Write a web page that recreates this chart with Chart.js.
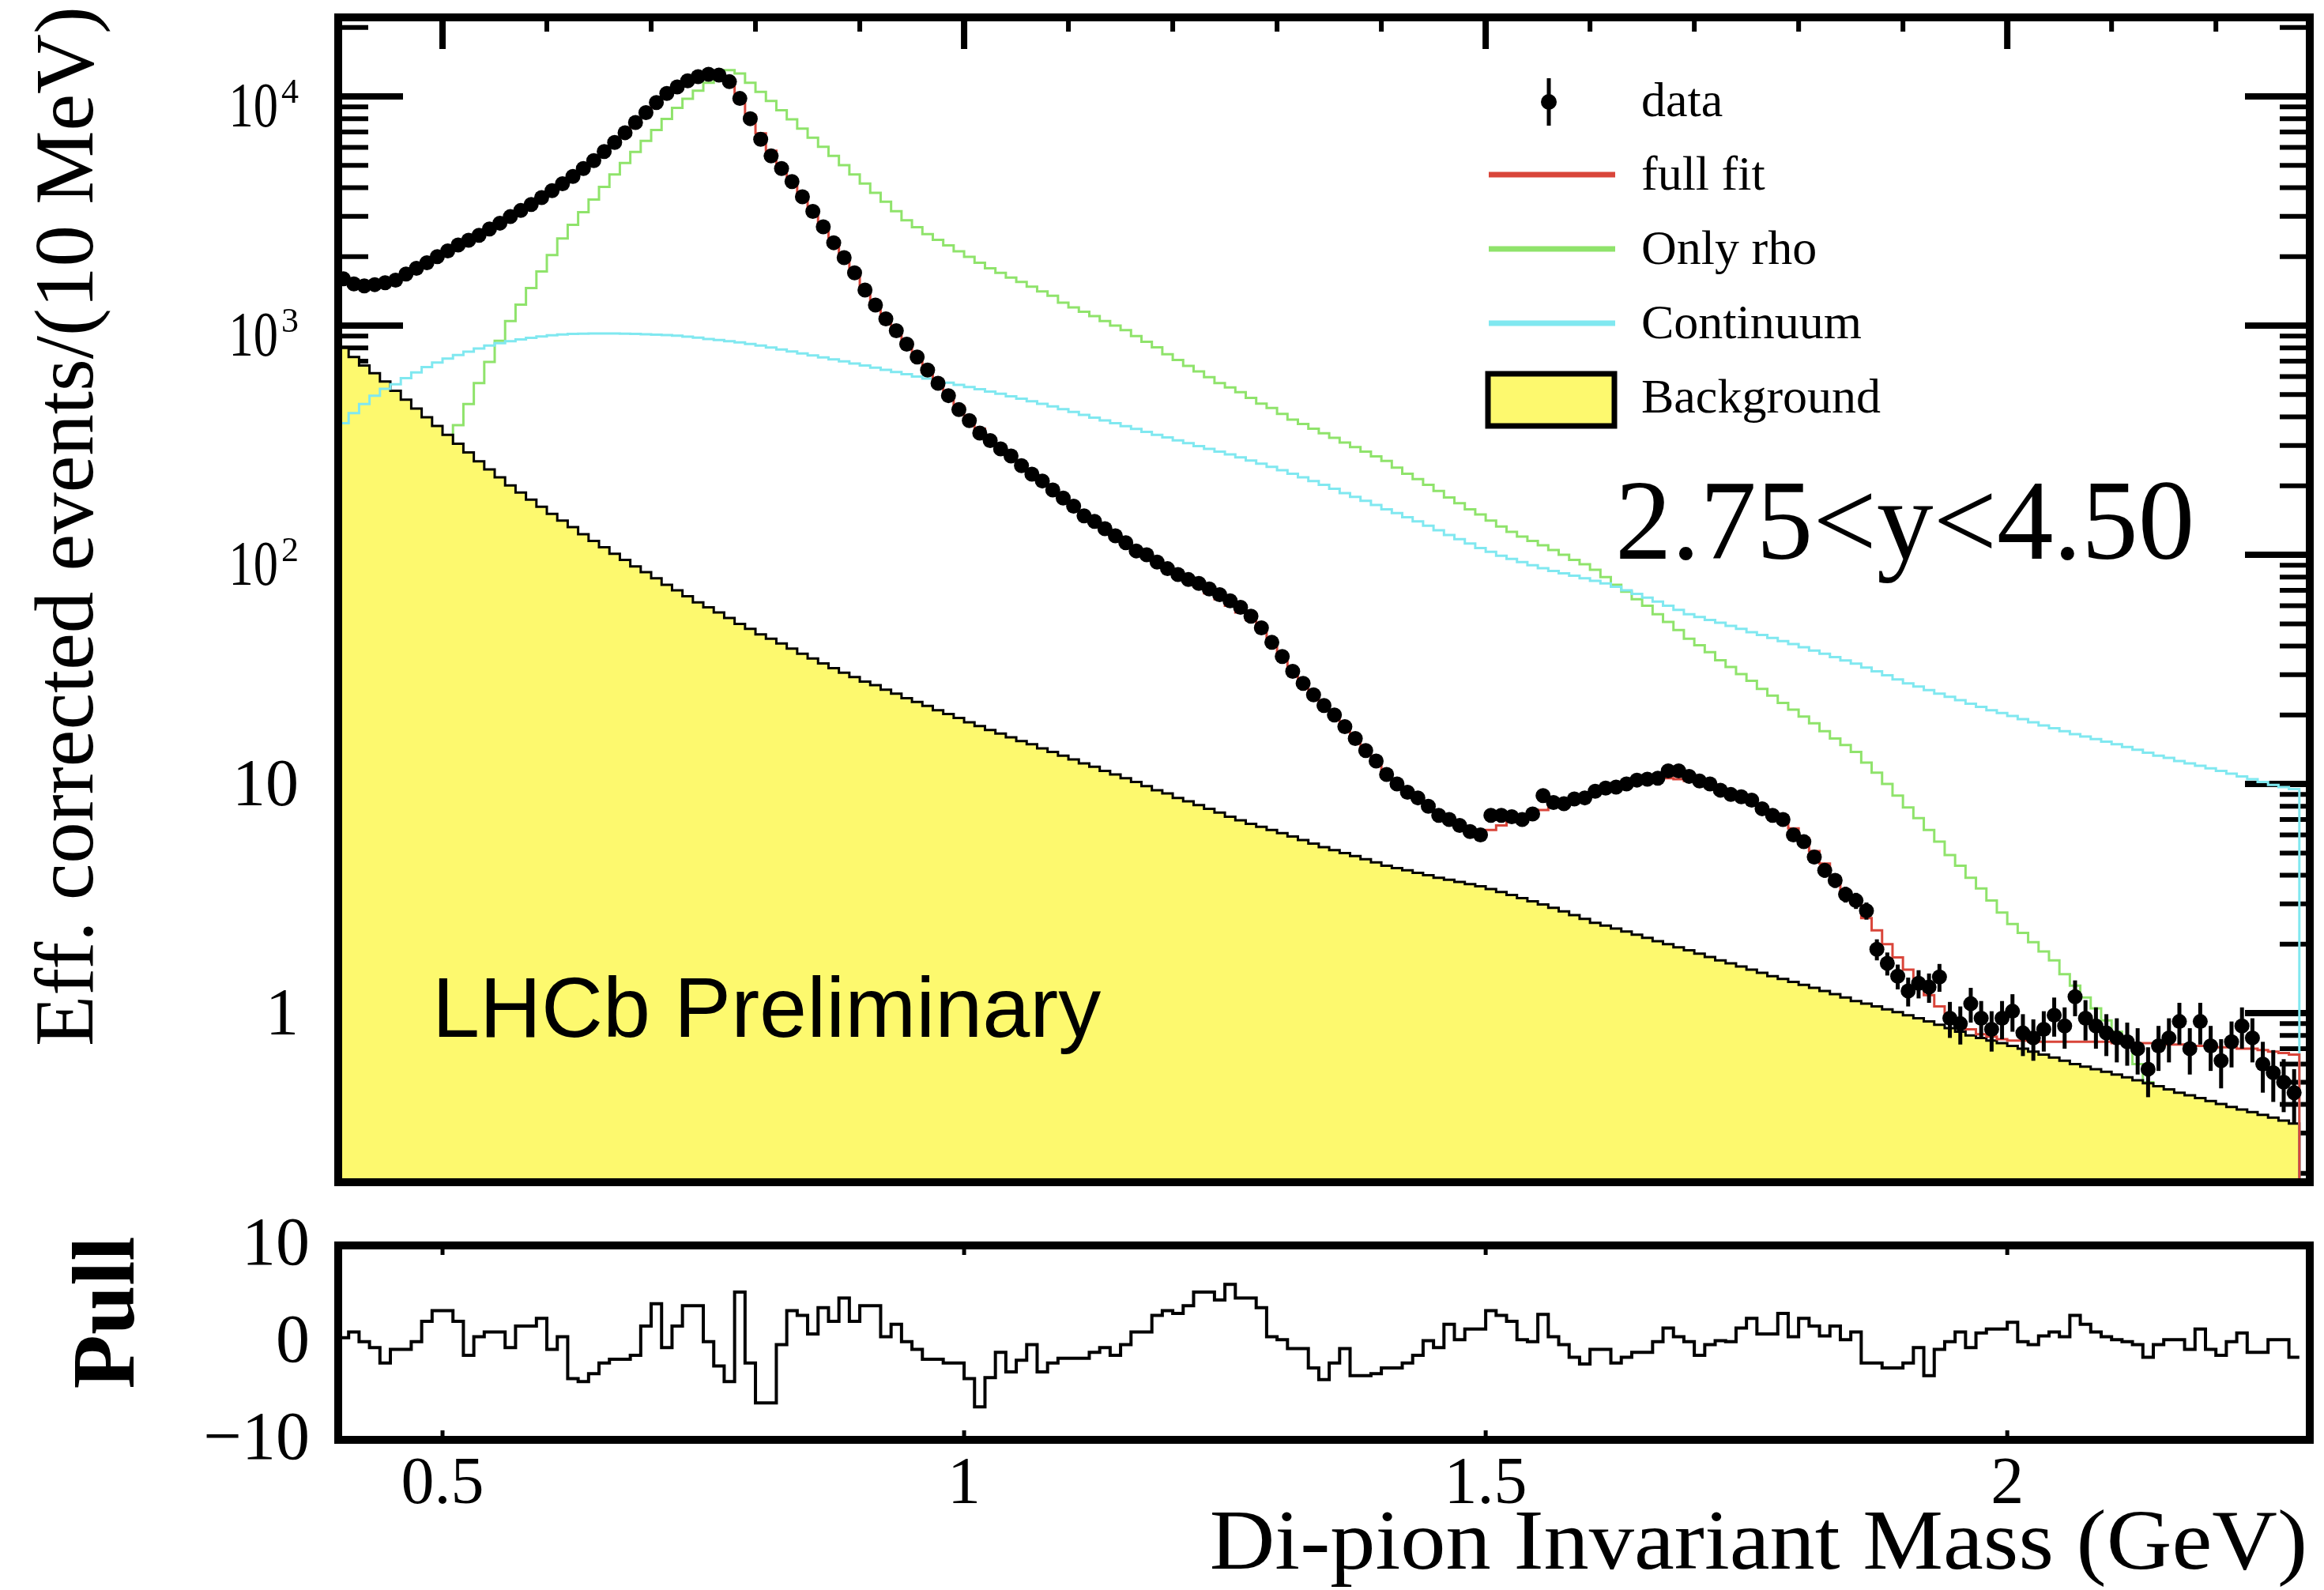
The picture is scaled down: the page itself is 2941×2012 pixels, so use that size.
<!DOCTYPE html>
<html>
<head>
<meta charset="utf-8">
<title>Di-pion invariant mass, 2.75&lt;y&lt;4.50</title>
<script src="https://cdn.jsdelivr.net/npm/chart.js@4.4.1/dist/chart.umd.min.js"></script>
<style>
  html, body { margin: 0; padding: 0; background: #fff; }
  #wrap { position: relative; width: 2941px; height: 2012px; }
  #wrap canvas { position: absolute; left: 0; top: 0; }
</style>
</head>
<body>
<div id="wrap">
  <canvas id="massChart" width="2941" height="2012"></canvas>
  <canvas id="pullChart" width="2941" height="2012"></canvas>
</div>
<script>
// binning: 10 MeV bins from 0.40 GeV
const binStart = 0.40;
const binWidth = 0.01;
const massMin = 0.40, massMax = 2.29;
const countMin = 0.183, countMax = 22130;
const pullMin = -10, pullMax = 10;

const countTicks = [1, 10, 100, 1000, 10000];
const countTickLabels = [['1'], ['10'], ['10', '2'], ['10', '3'], ['10', '4']];
const massTicks = [0.5, 1, 1.5, 2];
const massTickLabels = ['0.5', '1', '1.5', '2'];
const pullTicks = [-10, 0, 10];
const pullTickLabels = ['\u221210', '0', '10'];

// efficiency corrected yields per bin
const dataCounts = [
  1600, 1520, 1490, 1510, 1540, 1580, 1680, 1780, 1880, 2000,
  2120, 2250, 2360, 2480, 2640, 2800, 2990, 3180, 3380, 3620,
  3880, 4160, 4480, 4850, 5250, 5750, 6300, 6950, 7700, 8500,
  9400, 10300, 11000, 11700, 12200, 12500, 12400, 11600, 9800, 8000,
  6500, 5500, 4850, 4250, 3650, 3150, 2700, 2300, 1980, 1700,
  1430, 1230, 1070, 950, 830, 730, 640, 560, 495, 430,
  385, 340, 315, 290, 270, 245, 225, 210, 192, 177,
  163, 148, 140, 130, 121, 113, 104, 100, 93, 87,
  82, 78, 75, 71, 67, 63, 59, 54, 48, 41.5,
  36, 31, 27.5, 24.5, 22, 20, 17.8, 15.8, 14, 12.6,
  11, 10, 9.2, 8.7, 8.0, 7.3, 7.0, 6.6, 6.2, 6.0,
  7.3, 7.3, 7.2, 7.0, 7.4, 8.9, 8.3, 8.2, 8.6, 8.7,
  9.3, 9.6, 9.7, 10.0, 10.4, 10.5, 10.6, 11.4, 11.4, 10.8,
  10.3, 10.0, 9.4, 9.0, 8.8, 8.5, 7.8, 7.3, 7.0, 6.0,
  5.6, 4.8, 4.2, 3.8, 3.3, 3.1, 2.8, 1.9, 1.65, 1.45,
  1.25, 1.35, 1.3, 1.44, 0.95, 0.9, 1.1, 0.95, 0.85, 0.95,
  1.02, 0.82, 0.78, 0.85, 0.98, 0.88, 1.18, 0.95, 0.88, 0.82,
  0.78, 0.75, 0.7, 0.57, 0.72, 0.78, 0.92, 0.7, 0.92, 0.72,
  0.62, 0.75, 0.88, 0.78, 0.6, 0.55, 0.5, 0.45
];

// uncertainties, only large enough to show past the markers in the tail
const dataErrFirstBin = 140;
const dataErrTail = [
  0.35, 0.32, 0.3, 0.28, 0.26, 0.25, 0.24, 0.2, 0.19, 0.18,
  0.18, 0.19, 0.19, 0.2, 0.17, 0.17, 0.19, 0.18, 0.17, 0.18,
  0.19, 0.17, 0.16, 0.17, 0.19, 0.18, 0.21, 0.19, 0.18, 0.17,
  0.17, 0.16, 0.16, 0.14, 0.16, 0.17, 0.19, 0.16, 0.19, 0.16,
  0.15, 0.17, 0.18, 0.17, 0.15, 0.14, 0.13, 0.12
];

const fullFit = [
  1570, 1530, 1510, 1520, 1550, 1600, 1680, 1770, 1870, 1990,
  2110, 2240, 2370, 2500, 2650, 2810, 2990, 3190, 3410, 3650,
  3910, 4190, 4500, 4850, 5250, 5720, 6250, 6880, 7600, 8450,
  9350, 10250, 11000, 11650, 12150, 12450, 12400, 11700, 9500, 8300,
  6900, 5800, 4900, 4200, 3630, 3140, 2700, 2320, 1990, 1710,
  1450, 1250, 1090, 960, 845, 745, 655, 575, 505, 445,
  395, 355, 322, 295, 270, 248, 228, 210, 193, 178,
  164, 151, 140, 130, 121, 113, 105, 98, 92, 86.5,
  81.5, 77, 72.5, 68, 64, 60, 56, 52, 47, 41.5,
  36, 31, 27.5, 24.5, 22, 19.8, 17.8, 15.9, 14.2, 12.7,
  11.3, 10.2, 9.3, 8.6, 8.0, 7.5, 7.0, 6.6, 6.3, 6.1,
  6.3, 6.6, 6.9, 7.1, 7.4, 7.7, 8.0, 8.3, 8.6, 8.9,
  9.2, 9.5, 9.8, 10.1, 10.3, 10.5, 10.6, 10.6, 10.5, 10.3,
  10.1, 9.8, 9.5, 9.2, 8.8, 8.4, 8.0, 7.5, 7.0, 6.4,
  5.8, 5.1, 4.5, 3.9, 3.4, 3.0, 2.6, 2.3, 2.0, 1.75,
  1.55, 1.35, 1.2, 1.07, 0.97, 0.9, 0.85, 0.81, 0.79, 0.77,
  0.76, 0.76, 0.75, 0.75, 0.75, 0.75, 0.75, 0.75, 0.75, 0.75,
  0.74, 0.74, 0.74, 0.74, 0.73, 0.73, 0.73, 0.72, 0.72, 0.72,
  0.71, 0.71, 0.7, 0.7, 0.69, 0.68, 0.67, 0.66
];

const onlyRho = [
  37, 46, 57, 70, 86, 106, 130, 162, 200, 245,
  298, 368, 455, 562, 695, 859, 1047, 1236, 1459, 1722,
  2032, 2399, 2754, 3126, 3548, 4027, 4571, 5129, 5728, 6397,
  7145, 7980, 8913, 9772, 10590, 11480, 12450, 13030, 12590, 11480,
  10470, 9550, 8710, 7940, 7240, 6610, 6030, 5500, 5010, 4570,
  4170, 3800, 3470, 3160, 2880, 2690, 2510, 2370, 2240, 2110,
  1995, 1880, 1780, 1700, 1620, 1550, 1480, 1410, 1350, 1260,
  1200, 1150, 1100, 1047, 1000, 955, 900, 850, 804, 750,
  708, 668, 631, 596, 562, 537, 513, 484, 457, 437,
  412, 389, 372, 355, 339, 324, 309, 295, 282, 269,
  257, 240, 226, 214, 202, 190, 178, 168, 158, 150,
  141, 133, 126, 120, 115, 110, 105, 100, 95, 91,
  86, 80, 74, 69, 64, 60, 55, 51, 47, 43,
  40.3, 37.6, 34.7, 32.4, 30.2, 28.2, 26.0, 24.3, 22.6, 21.1,
  19.7, 18.4, 17.0, 15.8, 14.8, 13.8, 12.4, 11.2, 10.0, 8.9,
  7.9, 7.1, 6.3, 5.6, 4.9, 4.4, 3.9, 3.5, 3.1, 2.75,
  2.45, 2.24, 2.04, 1.86, 1.70, 1.48, 1.32, 1.17, 1.05, 0.93,
  0.83, 0.74, 0.60, 0.50, 0.43, 0.37, 0.32, 0.28, 0.24, 0.21,
  0.18, 0.16, 0.14, 0.12, 0.105, 0.09, 0.08, 0.07
];

const continuum = [
  375, 415, 455, 495, 530, 555, 590, 625, 660, 690,
  718, 745, 770, 795, 818, 838, 855, 870, 885, 897,
  908, 915, 920, 923, 925, 925, 924, 922, 920, 917,
  914, 910, 904, 896, 886, 875, 865, 855, 845, 832,
  818, 802, 787, 772, 757, 742, 727, 712, 698, 684,
  670, 656, 642, 628, 614, 600, 588, 576, 564, 552,
  540, 528, 516, 504, 492, 480, 468, 456, 444, 432,
  420, 408, 397, 386, 375, 364, 354, 344, 334, 325,
  316, 307, 298, 290, 282, 274, 266, 258, 250, 242,
  234, 226, 218, 210, 202, 194, 186, 179, 172, 165,
  158, 152, 146, 140, 134, 128, 122, 117, 112, 107,
  103, 99, 96, 93, 90, 87.5, 85, 83, 81, 79,
  77, 75, 72.5, 70, 67.5, 65, 62.5, 60, 57.5, 55,
  53.5, 52, 50.5, 49, 47.5, 46, 44.7, 43.4, 42, 40.8,
  39.5, 38.2, 37, 35.8, 34.6, 33.5, 32.2, 31, 29.8, 28.6,
  27.5, 26.6, 25.7, 24.8, 24, 23.2, 22.4, 21.7, 21, 20.4,
  19.8, 19.2, 18.6, 18.0, 17.5, 17.0, 16.5, 16.1, 15.7, 15.3,
  14.9, 14.5, 14.1, 13.7, 13.3, 13.0, 12.6, 12.3, 12.0, 11.7,
  11.4, 11.1, 10.8, 10.5, 10.2, 9.9, 9.7, 9.5
];

const background = [
  800, 730, 670, 620, 570, 520, 475, 435, 398, 365,
  334, 305, 280, 256, 236, 218, 201, 187, 174, 162,
  151, 141, 132, 123, 115, 108, 101, 95, 89, 84,
  79, 74, 70, 66, 62, 59, 56, 53, 50, 47.5,
  45, 43, 41, 39, 37, 35.3, 33.6, 32, 30.6, 29.3,
  28, 27, 25.8, 24.8, 23.7, 22.8, 21.9, 21, 20.2, 19.4,
  18.6, 17.9, 17.2, 16.6, 16, 15.4, 14.9, 14.3, 13.8, 13.3,
  12.8, 12.3, 11.9, 11.4, 11.0, 10.6, 10.2, 9.8, 9.4, 9.1,
  8.7, 8.4, 8.1, 7.8, 7.5, 7.2, 6.95, 6.7, 6.5, 6.3,
  6.1, 5.9, 5.7, 5.5, 5.3, 5.15, 5.0, 4.85, 4.7, 4.55,
  4.4, 4.3, 4.2, 4.1, 4.0, 3.9, 3.82, 3.74, 3.66, 3.58,
  3.48, 3.38, 3.28, 3.18, 3.08, 2.98, 2.88, 2.78, 2.68, 2.58,
  2.48, 2.41, 2.34, 2.27, 2.2, 2.13, 2.06, 2.0, 1.94, 1.88,
  1.82, 1.76, 1.70, 1.65, 1.60, 1.55, 1.50, 1.45, 1.41, 1.37,
  1.33, 1.29, 1.25, 1.21, 1.17, 1.13, 1.10, 1.07, 1.04, 1.01,
  0.98, 0.95, 0.92, 0.89, 0.86, 0.83, 0.80, 0.78, 0.76, 0.74,
  0.72, 0.70, 0.68, 0.66, 0.64, 0.62, 0.60, 0.585, 0.57, 0.555,
  0.54, 0.525, 0.51, 0.495, 0.48, 0.465, 0.45, 0.438, 0.426, 0.414,
  0.402, 0.39, 0.38, 0.37, 0.36, 0.35, 0.34, 0.33
];

const pullValues = [
  0.5, 1.1, 0.1, -0.5, -2.1, -0.7, -0.7, 0.1, 2.2, 3.3,
  3.3, 2.2, -1.3, 0.6, 1.1, 1.1, -0.5, 1.7, 1.7, 2.5,
  -0.7, 0.6, -3.7, -4.0, -3.2, -2.1, -1.7, -1.7, -1.3, 1.7,
  4.0, -0.5, 1.7, 3.8, 3.8, 0.1, -2.4, -4.0, 5.2, -2.1,
  -6.2, -6.2, -0.2, 3.3, 2.8, 0.9, 3.6, 2.2, 4.6, 2.2,
  3.8, 3.8, 0.6, 1.9, 0.1, -0.7, -1.7, -1.7, -2.1, -2.1,
  -3.7, -6.6, -3.6, -1.0, -3.0, -1.8, -0.2, -3.0, -2.1, -1.6,
  -1.6, -1.6, -1.0, -0.5, -1.3, -0.2, 1.1, 1.1, 2.8, 3.3,
  3.0, 3.8, 5.2, 5.2, 4.4, 6.0, 4.6, 4.6, 3.6, 0.6,
  0.3, -0.6, -0.6, -2.6, -3.8, -2.1, -0.6, -3.4, -3.4, -3.2,
  -2.6, -2.6, -2.1, -1.3, 0.2, -0.5, 1.9, 0.3, 1.4, 1.4,
  3.3, 2.8, 2.2, 0.3, 0.1, 2.9, 0.6, -0.2, -1.5, -2.2,
  -0.7, -0.7, -2.1, -1.5, -1.0, -1.0, 0.1, 1.5, 0.6, 0.1,
  -1.3, -0.2, 0.2, 0.1, 1.5, 2.5, 0.9, 0.9, 3.0, 0.6,
  2.5, 1.7, 0.7, 1.7, 0.3, 1.1, -2.1, -2.1, -2.6, -2.6,
  -2.1, -0.5, -3.4, -0.7, 0.1, 1.1, -0.5, 1.0, 1.4, 1.4,
  2.1, 0.1, -0.2, 0.7, 1.1, 0.6, 2.8, 1.9, 1.1, 0.6,
  0.3, 0.1, -0.2, -1.5, -0.2, 0.3, 0.3, -0.7, 1.4, -0.7,
  -1.3, 0.1, 1.0, -1.0, -1.0, 0.3, 0.3, -1.5
];

const YELLOW = '#fdf96e';
const GREEN = '#8fe36b';
const CYAN = '#80e8f0';
const RED = '#d9453a';
const SERIF = '"Liberation Serif", "Times New Roman", serif';
const SANS = '"Liberation Sans", Arial, sans-serif';

const edge = i => binStart + i * binWidth;

// step histogram: each value holds from its left bin edge to the next one;
// with a floor the outline is closed down to it at both ends
function histPoints(vals, floor) {
  const pts = [];
  if (floor !== undefined) pts.push({ x: edge(0), y: floor });
  vals.forEach((v, i) => pts.push({ x: edge(i), y: v }));
  pts.push({ x: edge(vals.length), y: floor !== undefined ? floor : vals[vals.length - 1] });
  return pts;
}

function line(ctx, x1, y1, x2, y2) {
  ctx.beginPath();
  ctx.moveTo(x1, y1);
  ctx.lineTo(x2, y2);
  ctx.stroke();
}

function text(ctx, str, x, y, font, opts = {}) {
  ctx.save();
  ctx.font = font;
  ctx.fillStyle = '#000';
  ctx.textAlign = opts.align || 'left';
  ctx.textBaseline = 'alphabetic';
  ctx.translate(x, y);
  if (opts.rotate) ctx.rotate(opts.rotate);
  if (opts.sx) ctx.scale(opts.sx, 1);
  ctx.fillText(str, 0, 0);
  ctx.restore();
}

const massDecor = {
  id: 'massDecor',
  beforeDatasetsDraw(chart) {
    const { ctx, chartArea: a, scales: { x, y } } = chart;
    ctx.save();
    ctx.strokeStyle = '#000';
    // ticks every 100 MeV, long ones at the labelled values
    for (let k = 5; k <= 22; k++) {
      const px = x.getPixelForValue(k / 10);
      const major = k % 5 === 0;
      ctx.lineWidth = major ? 8 : 6;
      const len = major ? 40 : 18;
      line(ctx, px, a.top, px, a.top + len);
      line(ctx, px, a.bottom, px, a.bottom - len);
    }
    for (let e = -1; e <= 4; e++) {
      for (let m = 1; m <= 9; m++) {
        const v = m * Math.pow(10, e);
        if (v < countMin || v > countMax) continue;
        const py = y.getPixelForValue(v);
        ctx.lineWidth = m === 1 ? 8 : 6;
        const len = m === 1 ? 82 : 38;
        line(ctx, a.left, py, a.left + len, py);
        line(ctx, a.right, py, a.right - len, py);
      }
    }
    ctx.restore();
  },
  afterDatasetsDraw(chart) {
    const { ctx, chartArea: a, scales: { x, y } } = chart;
    ctx.save();
    ctx.strokeStyle = '#000';
    ctx.lineWidth = 5;
    dataErrTail.forEach((err, k) => {
      const i = dataErrFirstBin + k;
      const v = dataCounts[i];
      const px = x.getPixelForValue(edge(i) + binWidth / 2);
      line(ctx, px, y.getPixelForValue(Math.max(v - err, countMin)), px, y.getPixelForValue(v + err));
    });
    ctx.lineWidth = 10;
    ctx.strokeRect(a.left, a.top, a.right - a.left, a.bottom - a.top);
    ctx.restore();
  },
  afterDraw(chart) {
    const { ctx, scales: { y } } = chart;
    const right = 378;
    countTicks.forEach((v, k) => {
      const py = y.getPixelForValue(v);
      const lab = countTickLabels[k];
      if (lab.length === 1) {
        text(ctx, lab[0], right, py + 27, '84px ' + SERIF, { align: 'right' });
      } else {
        ctx.font = '44px ' + SERIF;
        const ew = ctx.measureText(lab[1]).width;
        text(ctx, lab[1], right, py + 8, '44px ' + SERIF, { align: 'right' });
        text(ctx, lab[0], right - ew - 4, py + 38, '80px ' + SERIF, { align: 'right', sx: 0.78 });
      }
    });
    text(ctx, 'Eff. corrected events/(10 MeV)', 117, 666, '105px ' + SERIF,
      { align: 'center', rotate: -Math.PI / 2 });

    // legend
    ctx.save();
    ctx.strokeStyle = '#000';
    ctx.lineWidth = 5;
    line(ctx, 1960, 99, 1960, 159);
    ctx.fillStyle = '#000';
    ctx.beginPath();
    ctx.arc(1960, 129, 10, 0, Math.PI * 2);
    ctx.fill();
    ctx.lineWidth = 7;
    [[RED, 221], [GREEN, 315], [CYAN, 409]].forEach(([c, ly]) => {
      ctx.strokeStyle = c;
      line(ctx, 1884, ly, 2044, ly);
    });
    ctx.fillStyle = YELLOW;
    ctx.fillRect(1883, 473, 160, 66);
    ctx.strokeStyle = '#000';
    ctx.strokeRect(1883, 473, 160, 66);
    ctx.restore();
    const legendFont = '62px ' + SERIF;
    text(ctx, 'data', 2077, 147, legendFont);
    text(ctx, 'full fit', 2077, 240, legendFont);
    text(ctx, 'Only rho', 2077, 334, legendFont);
    text(ctx, 'Continuum', 2077, 428, legendFont);
    text(ctx, 'Background', 2077, 522, legendFont);

    text(ctx, '2.75<y<4.50', 2044, 707, '143px ' + SERIF);
    text(ctx, 'LHCb Preliminary', 547, 1312, '108px ' + SANS);
  }
};

const pullDecor = {
  id: 'pullDecor',
  beforeDatasetsDraw(chart) {
    const { ctx, chartArea: a, scales: { x } } = chart;
    ctx.save();
    ctx.strokeStyle = '#000';
    ctx.lineWidth = 5;
    massTicks.forEach(v => {
      const px = x.getPixelForValue(v);
      line(ctx, px, a.top, px, a.top + 12);
      line(ctx, px, a.bottom, px, a.bottom - 12);
    });
    ctx.restore();
  },
  afterDraw(chart) {
    const { ctx, chartArea: a, scales: { x, y } } = chart;
    ctx.save();
    ctx.strokeStyle = '#000';
    ctx.lineWidth = 10;
    ctx.strokeRect(a.left, a.top, a.right - a.left, a.bottom - a.top);
    ctx.restore();
    pullTicks.forEach((v, k) => {
      text(ctx, pullTickLabels[k], 392, y.getPixelForValue(v) + 24, '86px ' + SERIF, { align: 'right' });
    });
    text(ctx, 'Pull', 169, 1661, 'bold 112px ' + SERIF, { align: 'center', rotate: -Math.PI / 2 });
    massTicks.forEach((v, k) => {
      text(ctx, massTickLabels[k], x.getPixelForValue(v), 1902, '84px ' + SERIF, { align: 'center' });
    });
    text(ctx, 'Di-pion Invariant Mass (GeV)', 2920, 1985, '108px ' + SERIF, { align: 'right', sx: 1.06 });
  }
};

const histStyle = { pointRadius: 0, stepped: true, borderWidth: 3, fill: false, tension: 0 };

new Chart(document.getElementById('massChart'), {
  type: 'line',
  data: {
    datasets: [
      {
        label: 'data',
        data: dataCounts.map((v, i) => ({ x: edge(i) + binWidth / 2, y: v })),
        showLine: false,
        pointRadius: 9.5,
        pointBorderWidth: 0,
        pointBackgroundColor: '#000',
        borderColor: '#000'
      },
      { label: 'full fit', data: histPoints(fullFit, countMin), borderColor: RED, ...histStyle },
      { label: 'Continuum', data: histPoints(continuum, countMin), borderColor: CYAN, ...histStyle },
      {
        label: 'Background', data: histPoints(background, countMin), borderColor: '#000',
        ...histStyle, fill: 'start', backgroundColor: YELLOW
      },
      { label: 'Only rho', data: histPoints(onlyRho, countMin), borderColor: GREEN, ...histStyle }
    ]
  },
  options: {
    responsive: false,
    animation: false,
    devicePixelRatio: 1,
    events: [],
    layout: { padding: { left: 428, right: 18, top: 22, bottom: 516 } },
    scales: {
      x: { type: 'linear', min: massMin, max: massMax, bounds: 'data', display: false },
      y: { type: 'logarithmic', min: countMin, max: countMax, bounds: 'data', display: false }
    },
    plugins: { legend: { display: false }, tooltip: { enabled: false } }
  },
  plugins: [massDecor]
});

new Chart(document.getElementById('pullChart'), {
  type: 'line',
  data: {
    datasets: [
      { label: 'Pull', data: histPoints(pullValues), borderColor: '#000', ...histStyle, borderWidth: 4 }
    ]
  },
  options: {
    responsive: false,
    animation: false,
    devicePixelRatio: 1,
    events: [],
    layout: { padding: { left: 428, right: 18, top: 1576, bottom: 190 } },
    scales: {
      x: { type: 'linear', min: massMin, max: massMax, bounds: 'data', display: false },
      y: { type: 'linear', min: pullMin, max: pullMax, bounds: 'data', display: false }
    },
    plugins: { legend: { display: false }, tooltip: { enabled: false } }
  },
  plugins: [pullDecor]
});
</script>
</body>
</html>
